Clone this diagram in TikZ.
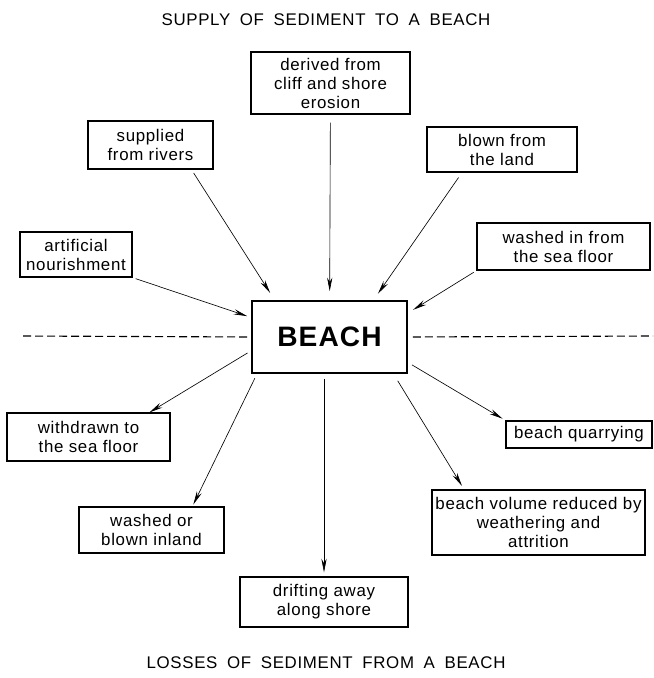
\documentclass[tikz,border=0pt]{standalone}
\usepackage{fontspec}
\setmainfont{Liberation Sans}[LetterSpace=4]
\newfontfamily\headfont{Liberation Sans}[WordSpace=1.8, LetterSpace=4]
\usetikzlibrary{arrows.meta}

\begin{document}
\begin{tikzpicture}[x=0.25mm, y=-0.25mm, every node/.style={font=\fontsize{12}{13.5}\selectfont}]
	% Styles
	\tikzstyle{lbl} = [draw=black, line width=0.9pt, align=center, inner sep=0pt]
	\tikzstyle{mainbox} = [draw=black, line width=1.4pt, font=\fontsize{20}{24}\selectfont\bfseries, minimum width=38.75mm, minimum height=18mm]
	\tikzstyle{arr} = [-{Stealth[length=3.4mm, width=1.3mm]}, line width=0.45pt]
	\tikzstyle{dashline} = [dash pattern=on 2mm off 1mm, line width=0.8pt]
	\tikzstyle{heading} = [font=\headfont\fontsize{12}{14}\selectfont]

	\useasboundingbox (0,0) rectangle (653,678);

	% Titles
	\node[heading] (supplytitle) at (326,20) {SUPPLY OF SEDIMENT TO A BEACH};
	\node[heading] (losstitle) at (326,663) {LOSSES OF SEDIMENT FROM A BEACH};

	% Central box
	\node[mainbox] (beach) at (329.5,337) {BEACH};

	% Supply boxes (top)
	\node[lbl, minimum width=39.75mm, minimum height=15.5mm] (derived) at (330.5,83) {derived from\\cliff and shore\\erosion};
	\node[lbl, minimum width=31.25mm, minimum height=12mm] (rivers) at (150.5,145) {supplied\\from rivers};
	\node[lbl, minimum width=37.5mm, minimum height=11.25mm] (blown) at (502,149.5) {blown from\\the land};
	\node[lbl, minimum width=28mm, minimum height=11.25mm] (nourish) at (76,254.5) {artificial\\nourishment};
	\node[lbl, minimum width=43.25mm, minimum height=11.75mm] (seafloorin) at (563.5,246.5) {washed in from\\the sea floor};

	% Loss boxes (bottom)
	\node[lbl, minimum width=40.75mm, minimum height=12mm] (withdrawn) at (88.5,437) {withdrawn to\\the sea floor};
	\node[lbl, minimum width=36.25mm, minimum height=11.5mm] (inland) at (151.5,530) {washed or\\blown inland};
	\node[lbl, minimum width=42mm, minimum height=12.5mm] (drifting) at (324,602) {drifting away\\along shore};
	\node[lbl, minimum width=36.5mm, minimum height=6.75mm] (quarry) at (579,434.5) {beach quarrying};
	\node[lbl, minimum width=53.25mm, minimum height=16.25mm] (volume) at (538.5,522.5) {beach volume reduced by\\weathering and\\attrition};

	% Shoreline
	\coordinate (dashL) at (20,336);
	\coordinate (dashR) at (653,336);
	\draw[dashline, shorten <=1mm] (beach.west) -- (dashL);
	\draw[dashline, shorten <=1.2mm] (beach.east) -- (dashR);

	% Arrows in
	\draw[arr, shorten <=2mm, shorten >=2.2mm] (derived) -- (beach);
	\draw[arr, shorten <=1mm, shorten >=2.1mm] (rivers.-31) -- (beach.146);
	\draw[arr, shorten <=1.5mm, shorten >=1.9mm] (blown.210) -- (beach.40);
	\draw[arr, shorten <=0.8mm, shorten >=1mm] (nourish.south east) -- (beach.166);
	\draw[arr, shorten <=0.8mm, shorten >=1.5mm] (seafloorin.south west) -- (beach.17);

	% Arrows out
	\draw[arr, shorten <=1mm] (beach.190) -- (withdrawn.22);
	\draw[arr, shorten <=1.2mm, shorten >=0.5mm] (beach.207) -- (inland.30);
	\draw[arr, shorten <=1.2mm, shorten >=1mm] (beach.south -| drifting.north) -- (drifting.north);
	\draw[arr, shorten <=2mm, shorten >=1mm] (beach.-30) -- (volume.156);
	\draw[arr, shorten <=1.2mm, shorten >=0.8mm] (beach.-18) -- (quarry.north west);

\end{tikzpicture}
\end{document}
